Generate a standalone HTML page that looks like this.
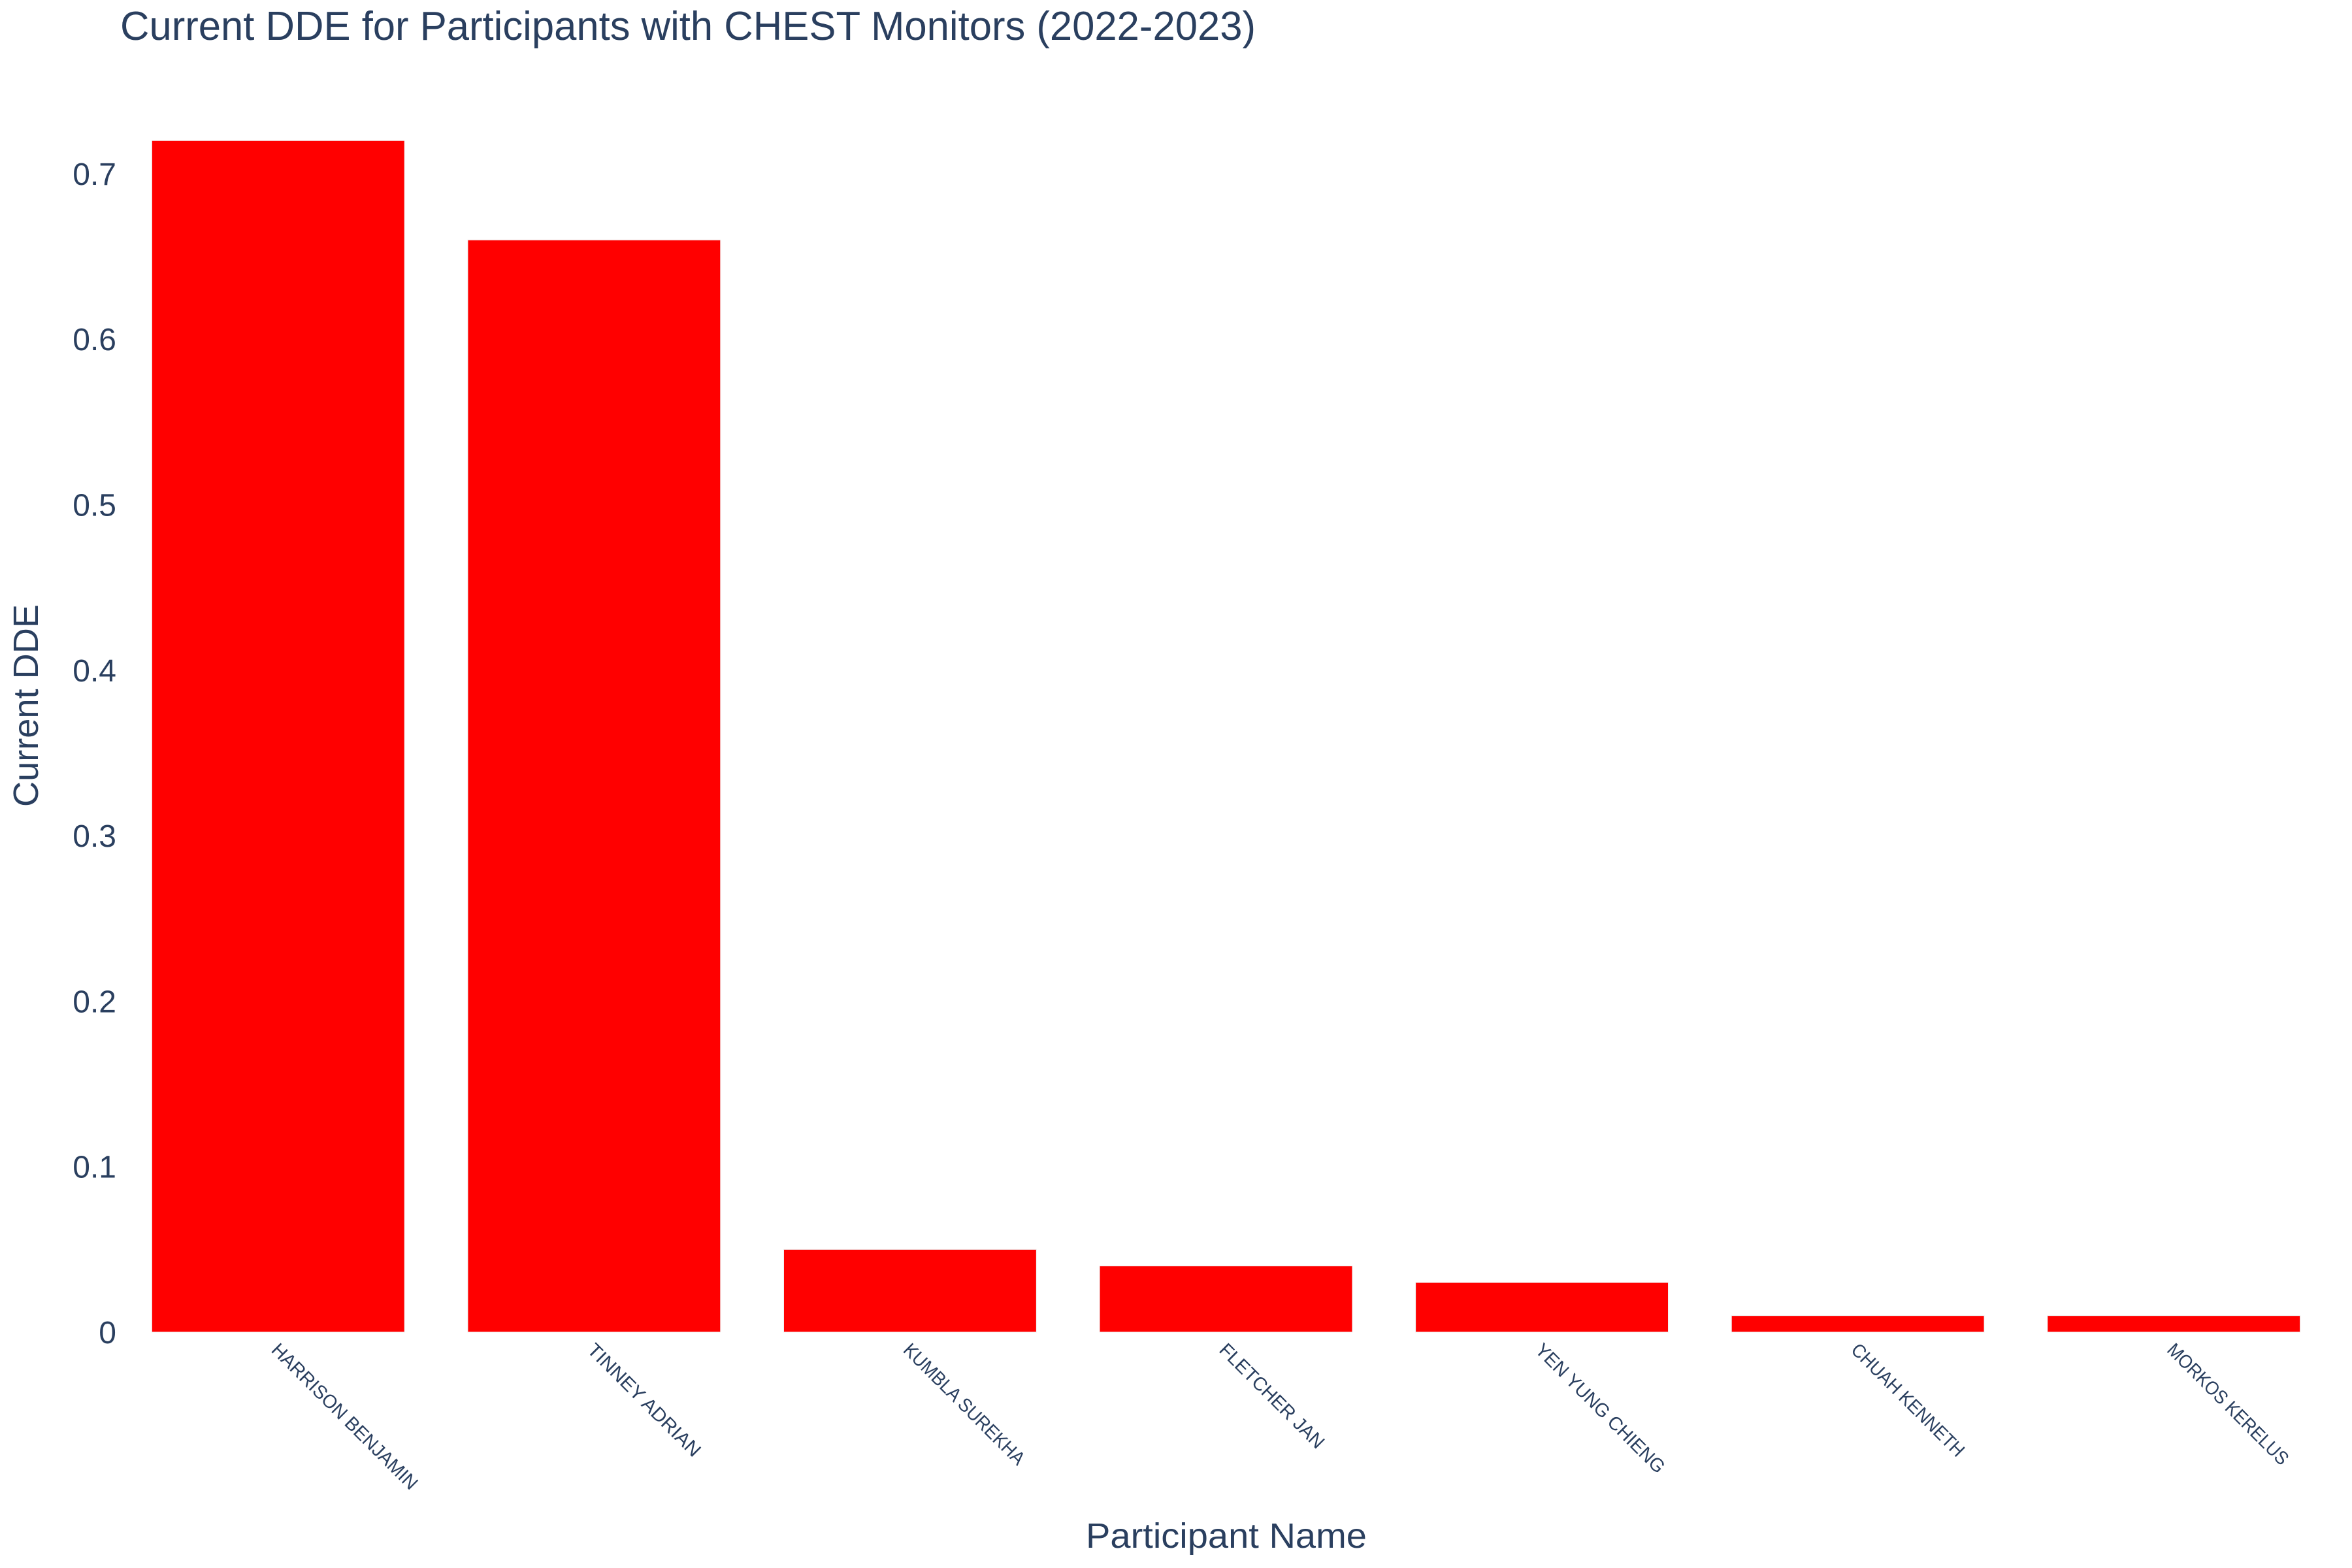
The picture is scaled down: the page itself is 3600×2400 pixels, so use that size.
<!DOCTYPE html>
<html>
<head>
<meta charset="utf-8">
<style>
  html, body { margin: 0; padding: 0; background: #ffffff; }
  svg { display: block; font-family: "Liberation Sans", "DejaVu Sans", sans-serif; }
</style>
</head>
<body>
<svg id="chart" width="3600" height="2400" viewBox="0 0 3600 2400" xmlns="http://www.w3.org/2000/svg">
  <rect x="0" y="0" width="3600" height="2400" fill="#ffffff"/>
  <text x="184" y="61" font-size="62" fill="#2a3f5f" textLength="1738" lengthAdjust="spacingAndGlyphs">Current DDE for Participants with CHEST Monitors (2022-2023)</text>
  <g id="y-ticks"></g>
  <g id="bars"></g>
  <g id="x-ticks"></g>
  <text transform="translate(58,1080) rotate(-90)" text-anchor="middle" font-size="54" fill="#2a3f5f" textLength="310" lengthAdjust="spacingAndGlyphs">Current DDE</text>
  <text x="1877" y="2369" text-anchor="middle" font-size="54" fill="#2a3f5f" textLength="430" lengthAdjust="spacingAndGlyphs">Participant Name</text>
</svg>
<script>
const categories = ["HARRISON BENJAMIN", "TINNEY ADRIAN", "KUMBLA SUREKHA", "FLETCHER JAN", "YEN YUNG CHIENG", "CHUAH KENNETH", "MORKOS KERELUS"];
const values = [0.72, 0.66, 0.05, 0.04, 0.03, 0.01, 0.01];
const yTicks = [0, 0.1, 0.2, 0.3, 0.4, 0.5, 0.6, 0.7];
const yTickLabels = ["0", "0.1", "0.2", "0.3", "0.4", "0.5", "0.6", "0.7"];

const NS = "http://www.w3.org/2000/svg";
const plotLeft = 184, plotRight = 3569, zeroY = 2039, unitPx = 2533;
const slot = (plotRight - plotLeft) / categories.length;
function yScale(v) { return zeroY - v * unitPx; }
function xCenter(i) { return plotLeft + slot * (i + 0.5); }

const yG = document.getElementById("y-ticks");
yTicks.forEach(function (t, i) {
  const tx = document.createElementNS(NS, "text");
  
  
  tx.setAttribute("x", 178);
  tx.setAttribute("y", yScale(t) + 17);
  tx.setAttribute("text-anchor", "end");
  tx.setAttribute("font-size", "48");
  tx.setAttribute("fill", "#2a3f5f");
  tx.textContent = yTickLabels[i];
  yG.appendChild(tx);
});

const bG = document.getElementById("bars");
const xG = document.getElementById("x-ticks");
const barW = slot * 0.8;
values.forEach(function (v, i) {
  const r = document.createElementNS(NS, "rect");
  
  
  r.setAttribute("x", xCenter(i) - barW / 2);
  r.setAttribute("y", yScale(v));
  r.setAttribute("width", barW);
  r.setAttribute("height", zeroY - yScale(v));
  r.setAttribute("fill", "#ff0000");
  r.setAttribute("stroke", "#f0f0f0");
  r.setAttribute("stroke-width", "1");
  bG.appendChild(r);

  const lbl = document.createElementNS(NS, "text");
  
  
  const cx = xCenter(i) - 12, cy = 2068;
  lbl.setAttribute("transform", "translate(" + cx + "," + cy + ") rotate(45)");
  lbl.setAttribute("x", 0);
  lbl.setAttribute("y", 0);
  lbl.setAttribute("font-size", "29");
  lbl.setAttribute("fill", "#2a3f5f");
  lbl.setAttribute("textLength", categories[i].length * 17.8);
  lbl.setAttribute("lengthAdjust", "spacingAndGlyphs");
  lbl.textContent = categories[i];
  xG.appendChild(lbl);
});
</script>
</body>
</html>
